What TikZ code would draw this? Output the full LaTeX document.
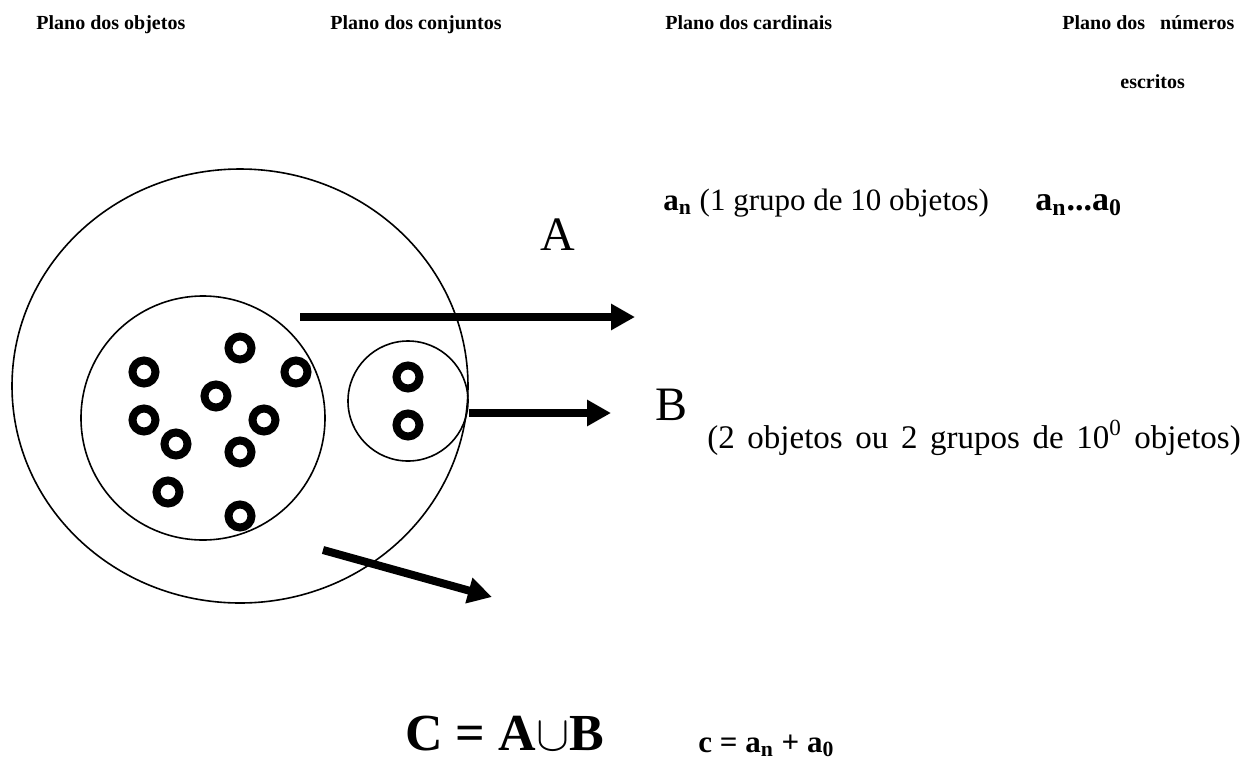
\documentclass[tikz,border=0pt]{standalone}
\usepackage{fontspec}
\setmainfont{Liberation Serif}
\usetikzlibrary{arrows.meta,shapes.geometric}
\begin{document}
\begin{tikzpicture}[x=0.5pt,y=-0.5pt,
  hdr/.style={font=\bfseries\fontsize{10}{12}\selectfont, anchor=base west, inner sep=0},
  txt/.style={font=\fontsize{15.5}{18}\selectfont, anchor=base west, inner sep=0},
  big/.style={font=\fontsize{24}{28}\selectfont, anchor=base west, inner sep=0},
  eq/.style={font=\bfseries\fontsize{26}{30}\selectfont, anchor=base west, inner sep=0},
  seteq/.style={font=\bfseries\fontsize{15.5}{18}\selectfont, anchor=base west, inner sep=0},
  setc/.style={draw, line width=0.8pt, inner sep=0},
  obj/.style={circle, draw, line width=4pt, minimum size=11.5pt, inner sep=0},
  arr/.style={line width=4pt, -{Triangle[length=12pt,width=12.5pt]}}]
\useasboundingbox (0,0) rectangle (1250,762);
% headers
\node[hdr] (h1) at (36,29) {Plano dos objetos};
\node[hdr] (h2) at (330,29) {Plano dos conjuntos};
\node[hdr] (h3) at (665,29) {Plano dos cardinais};
\node[hdr] (h4) at (1062,29) {Plano dos\ \ \ números};
\node[hdr] (h5) at (1120,88) {escritos};
% sets
\node[setc, ellipse, minimum width=228pt, minimum height=217pt] (outer) at (240,386) {};
\node[setc, circle, minimum size=122pt] (inner) at (203,418) {};
\node[setc, circle, minimum size=60pt] (small) at (408,401) {};
% objects
\foreach \n/\x/\y in {1/240/348, 2/144/372, 3/296/372, 4/216/396, 5/144/420,
  6/264/420, 7/176/444, 8/240/452, 9/168/492, 10/240/516}
  \node[obj] (o\n) at (\x,\y) {};
\node[obj] (s1) at (408,377) {};
\node[obj] (s2) at (408,425) {};
% arrows
\coordinate (a0) at (300,317);
\coordinate (a1) at (635,317);
\coordinate (b1) at (611,413);
\coordinate (c0) at (323,550);
\coordinate (c1) at (492,597);
\draw[arr] (a0) -- (a1);
\draw[arr] (small.east |- b1) -- (b1);
\draw[arr] (c0) -- (c1);
% labels
\node[big] (A) at (540,250) {A};
\node[big] (B) at (655,420) {B};
\node[txt] (an) at (663,210) {\textbf{a\textsubscript{n}} (1 grupo de 10 objetos)};
\node[seteq, font=\bfseries\fontsize{17}{20}\selectfont] (anao) at (1035,210) {a\textsubscript{n}...a\textsubscript{0}};
\node[txt, font=\fontsize{16.5}{19}\selectfont] (two) at (707,448) {\spaceskip=6.3pt plus 1pt (2 objetos ou 2 grupos de 10\textsuperscript{0} objetos)};
\node[eq] (C) at (405,750) {C = A$\cup$B};
\node[seteq] (c) at (698,752) {c = a\textsubscript{n} + a\textsubscript{0}};
\end{tikzpicture}
\end{document}
